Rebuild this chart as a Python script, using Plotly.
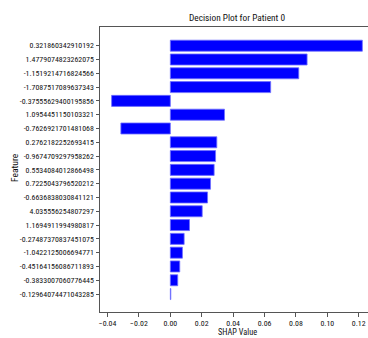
import plotly.graph_objects as go

features = [
    "0.321860342910192", "1.4779074823262075", "-1.1519214716824566",
    "-1.7087517089637343", "-0.37555629400195856", "1.0954451150103321",
    "-0.7626921701481068", "0.2762182252693415", "-0.9674709297958262",
    "0.5534084012866498", "0.7225043796520212", "-0.6636838030841121",
    "4.035556254807297", "1.1694911994980817", "-0.27487370837451075",
    "-1.0422125006694771", "-0.45164156086711893", "-0.3833007060776445",
    "-0.12964074471043285",
]
shap_values = [
    0.1223, 0.0871, 0.0818, 0.0639, -0.0374, 0.0345, -0.0315, 0.0296,
    0.0288, 0.0279, 0.0256, 0.0237, 0.0203, 0.0122, 0.0088, 0.0077,
    0.0060, 0.0047, 0.0003,
]
x_ticks = [-0.04, -0.02, 0.00, 0.02, 0.04, 0.06, 0.08, 0.10, 0.12]
x_tick_text = ["\u22120.04", "\u22120.02", "0.00", "0.02", "0.04", "0.06", "0.08", "0.10", "0.12"]

FONT = "Roboto Condensed, DejaVu Sans Condensed, sans-serif"
TXT = "#111"

W, H = 368, 338
L, T, B = 100, 27, 26
PW, PH = W - L, H - T - B

fig = go.Figure(go.Bar(
    x=shap_values, y=features, orientation="h",
    marker=dict(color="#0000ff", line=dict(color="#7070ff", width=0.8)),
))

fig.update_layout(
    width=W, height=H,
    margin=dict(l=L, r=0, t=T, b=B, autoexpand=False),
    paper_bgcolor="white", plot_bgcolor="white",
    bargap=0.2,
    showlegend=False,
    hovermode=False,
    font=dict(family=FONT, size=8, color=TXT),
    title=dict(text="Decision Plot for Patient 0", x=237 / W, xanchor="center",
               y=1 - 18 / H, yanchor="middle",
               font=dict(family=FONT, size=9.3, color=TXT)),
    annotations=[
        dict(text="SHAP Value", xref="paper", yref="paper",
             x=(237 - L) / PW, y=-(332 - (H - B)) / PH, xanchor="center", yanchor="middle",
             showarrow=False, font=dict(family=FONT, size=8.3, color=TXT)),
        dict(text="Feature", xref="paper", yref="paper", textangle=-90,
             x=-(L - 14) / PW, y=((H - B) - 168) / PH, xanchor="center", yanchor="middle",
             showarrow=False, font=dict(family=FONT, size=9.5, color=TXT)),
    ],
)
fig.update_xaxes(
    range=[-0.0448, 0.1259], tickvals=x_ticks, ticktext=x_tick_text,
    showline=True, linecolor="#555", linewidth=1, mirror=True,
    ticks="outside", ticklen=3.5, tickcolor="#555", tickwidth=1,
    showgrid=False, zeroline=False, automargin=False,
    tickfont=dict(family=FONT, size=7.9, color=TXT),
)
fig.update_yaxes(
    type="category", categoryorder="array", categoryarray=features,
    range=[19.3, -1.355],
    showline=True, linecolor="#555", linewidth=1, mirror=False,
    ticks="outside", ticklen=3.5, tickcolor="#555", tickwidth=1,
    showgrid=False, zeroline=False, automargin=False,
    tickfont=dict(family=FONT, size=7.9, color=TXT),
)

# remove the browser's default 8px body margin so the figure fills the window exactly
fig.write_html(
    "out.html",
    config={"displayModeBar": False, "staticPlot": True},
    post_script="document.body.style.margin='0';document.body.style.overflow='hidden';",
)
